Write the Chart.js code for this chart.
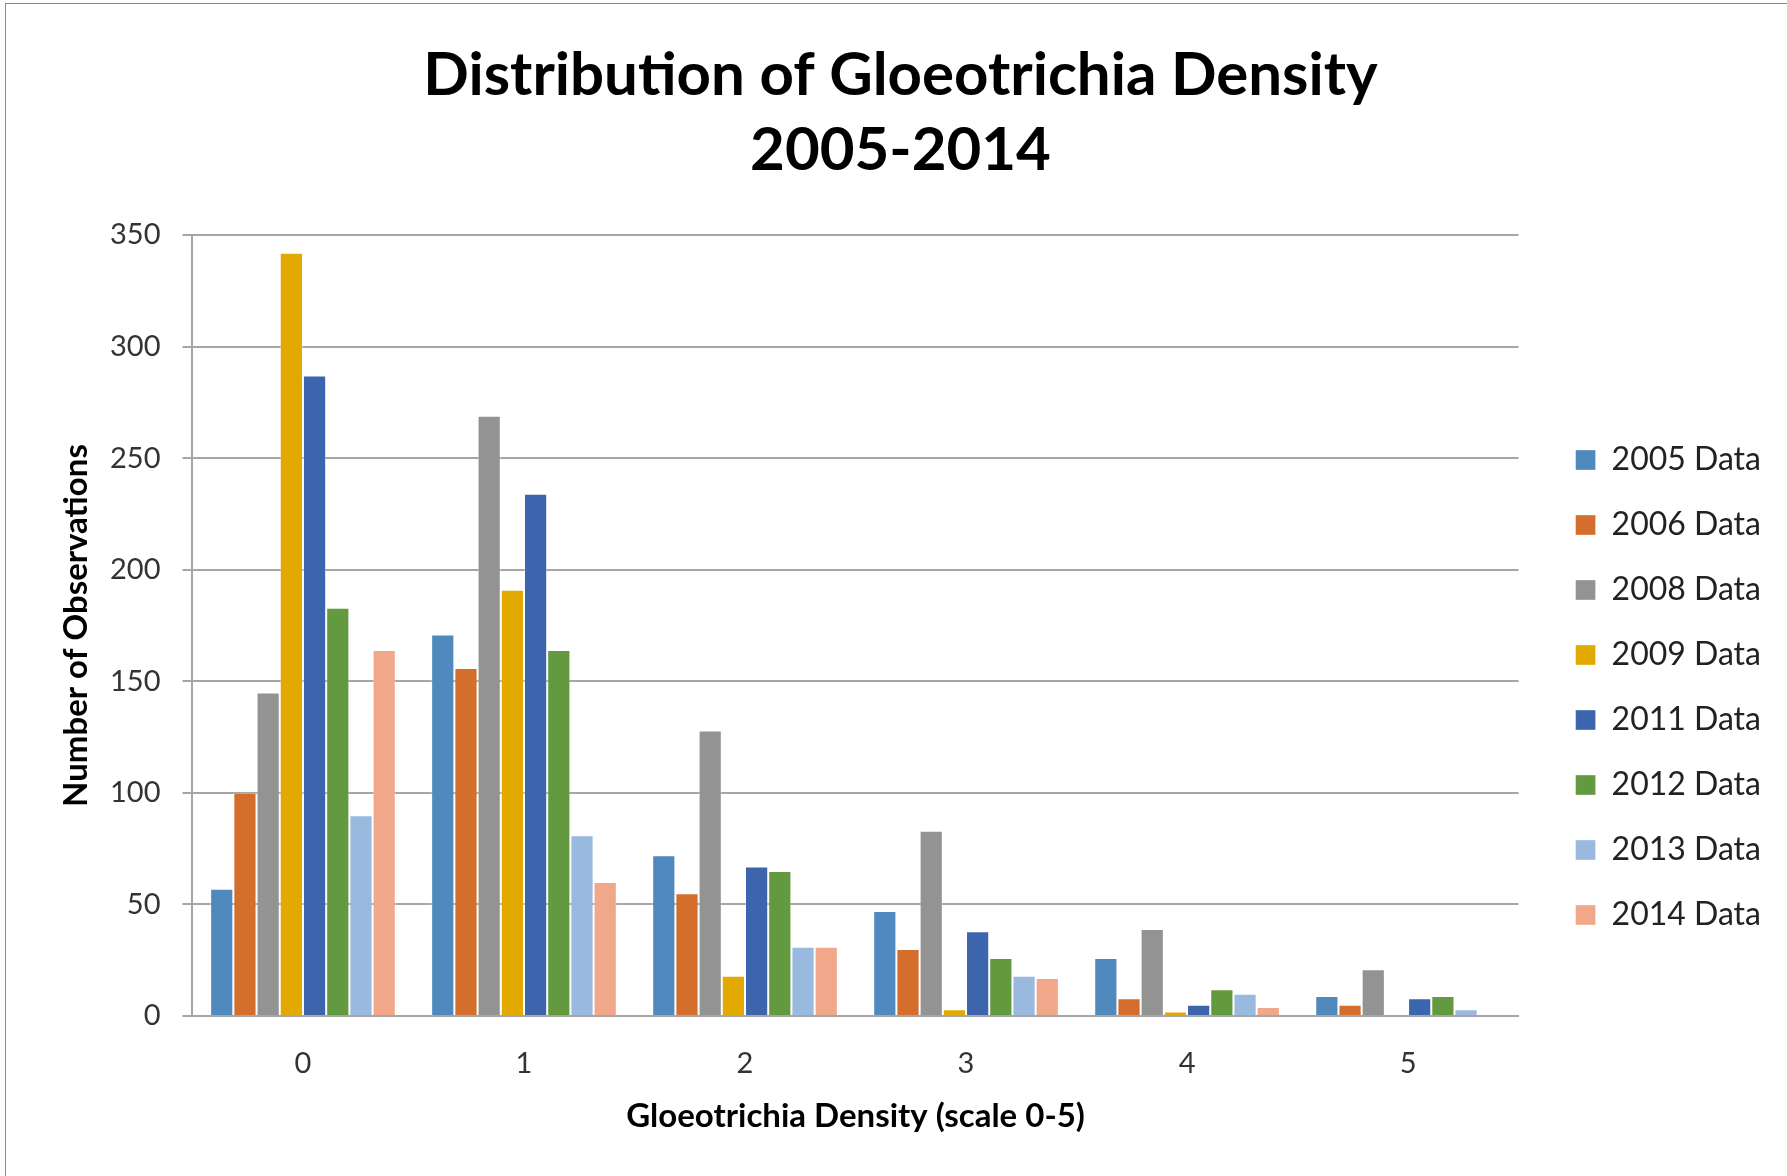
<!DOCTYPE html>
<html>
<head>
<meta charset="utf-8">
<script src="https://cdn.jsdelivr.net/npm/chart.js@4.4.1/dist/chart.umd.min.js"></script>
<style>
  html, body { margin: 0; padding: 0; background: #fff; }
  #frame { position: absolute; left: 5px; top: 3px; width: 1800px; height: 1200px; border: 1px solid #8c8c8c; }
  #wrap { position: absolute; left: 0; top: 0; width: 1787px; height: 1176px; }
</style>
</head>
<body>
<div id="frame"></div>
<div id="wrap"><canvas id="chart" width="1787" height="1176"></canvas></div>
<script>
// density classes on the x axis
var densityLabels = ["0", "1", "2", "3", "4", "5"];

var data2005 = [57, 171, 72, 47, 26, 9];
var data2006 = [100, 156, 55, 30, 8, 5];
var data2008 = [145, 269, 128, 83, 39, 21];
var data2009 = [342, 191, 18, 3, 2, 0];
var data2011 = [287, 234, 67, 38, 5, 8];
var data2012 = [183, 164, 65, 26, 12, 9];
var data2013 = [90, 81, 31, 18, 10, 3];
var data2014 = [164, 60, 31, 17, 4, 0];

var yearNames = ["2005 Data", "2006 Data", "2008 Data", "2009 Data", "2011 Data", "2012 Data", "2013 Data", "2014 Data"];
var yearColors = ["#4f89bd", "#d46e2c", "#939393", "#e2aa00", "#3d65ad", "#639a3f", "#99b9df", "#f1a78a"];
var yearData = [data2005, data2006, data2008, data2009, data2011, data2012, data2013, data2014];

var datasets = [];
for (var i = 0; i < yearNames.length; i++) {
  datasets.push({
    label: yearNames[i],
    data: yearData[i],
    backgroundColor: yearColors[i],
    borderColor: "rgba(255,255,255,0.35)",
    borderWidth: 1,
    categoryPercentage: 0.84,
    barPercentage: 1.0
  });
}

var fontFam = "Lato, 'Open Sans', sans-serif";

// nudge the main title a bit to the left, like the original
var titleShift = {
  id: "titleShift",
  afterLayout: function(chart) {
    if (chart.titleBlock) {
      chart.titleBlock.left -= 15;
      chart.titleBlock.right -= 15;
    }
  }
};

new Chart(document.getElementById("chart"), {
  type: "bar",
  data: { labels: densityLabels, datasets: datasets },
  plugins: [titleShift],
  options: {
    responsive: false,
    animation: false,
    layout: { padding: { left: 60, right: 16, top: 38, bottom: 43 } },
    plugins: {
      title: {
        display: true,
        text: ["Distribution of Gloeotrichia Density", "2005-2014"],
        color: "#000",
        font: { family: fontFam, size: 60, weight: "bold", lineHeight: 1.25 },
        padding: { top: 0, bottom: 47 }
      },
      legend: {
        position: "right",
        // blank title only pushes the legend rows down
        title: { display: true, text: " ", font: { size: 10 }, padding: { top: 192, bottom: 0 } },
        labels: {
          color: "#222",
          font: { family: fontFam, size: 32 },
          boxWidth: 20,
          boxHeight: 20,
          padding: 33
        }
      },
      tooltip: { enabled: false }
    },
    scales: {
      x: {
        grid: { display: false, tickLength: 14 },
        border: { color: "#a6a6a6", width: 2 },
        ticks: { color: "#333", font: { family: fontFam, size: 29, lineHeight: 1.0 }, padding: 19 },
        title: {
          display: true,
          text: "Gloeotrichia Density (scale 0-5)",
          color: "#000",
          font: { family: fontFam, size: 33, weight: "bold", lineHeight: 1.0 },
          padding: { top: 3, bottom: 0 }
        }
      },
      y: {
        min: 0,
        max: 350,
        ticks: { stepSize: 50, color: "#333", font: { family: fontFam, size: 29 }, padding: 22 },
        grid: { color: "#a6a6a6", lineWidth: 2, tickLength: 10, drawTicks: true },
        border: { color: "#a6a6a6", width: 2 },
        title: {
          display: true,
          text: "Number of Observations",
          color: "#000",
          font: { family: fontFam, size: 33, weight: "bold", lineHeight: 1.0 },
          padding: { top: 0, bottom: -5 }
        }
      },
      // empty strip between the plot and the legend
      gap: {
        position: "right",
        display: true,
        grid: { display: false },
        border: { display: false },
        ticks: { display: false },
        afterFit: function(scale) { scale.width = 24; }
      }
    }
  }
});
</script>
</body>
</html>
